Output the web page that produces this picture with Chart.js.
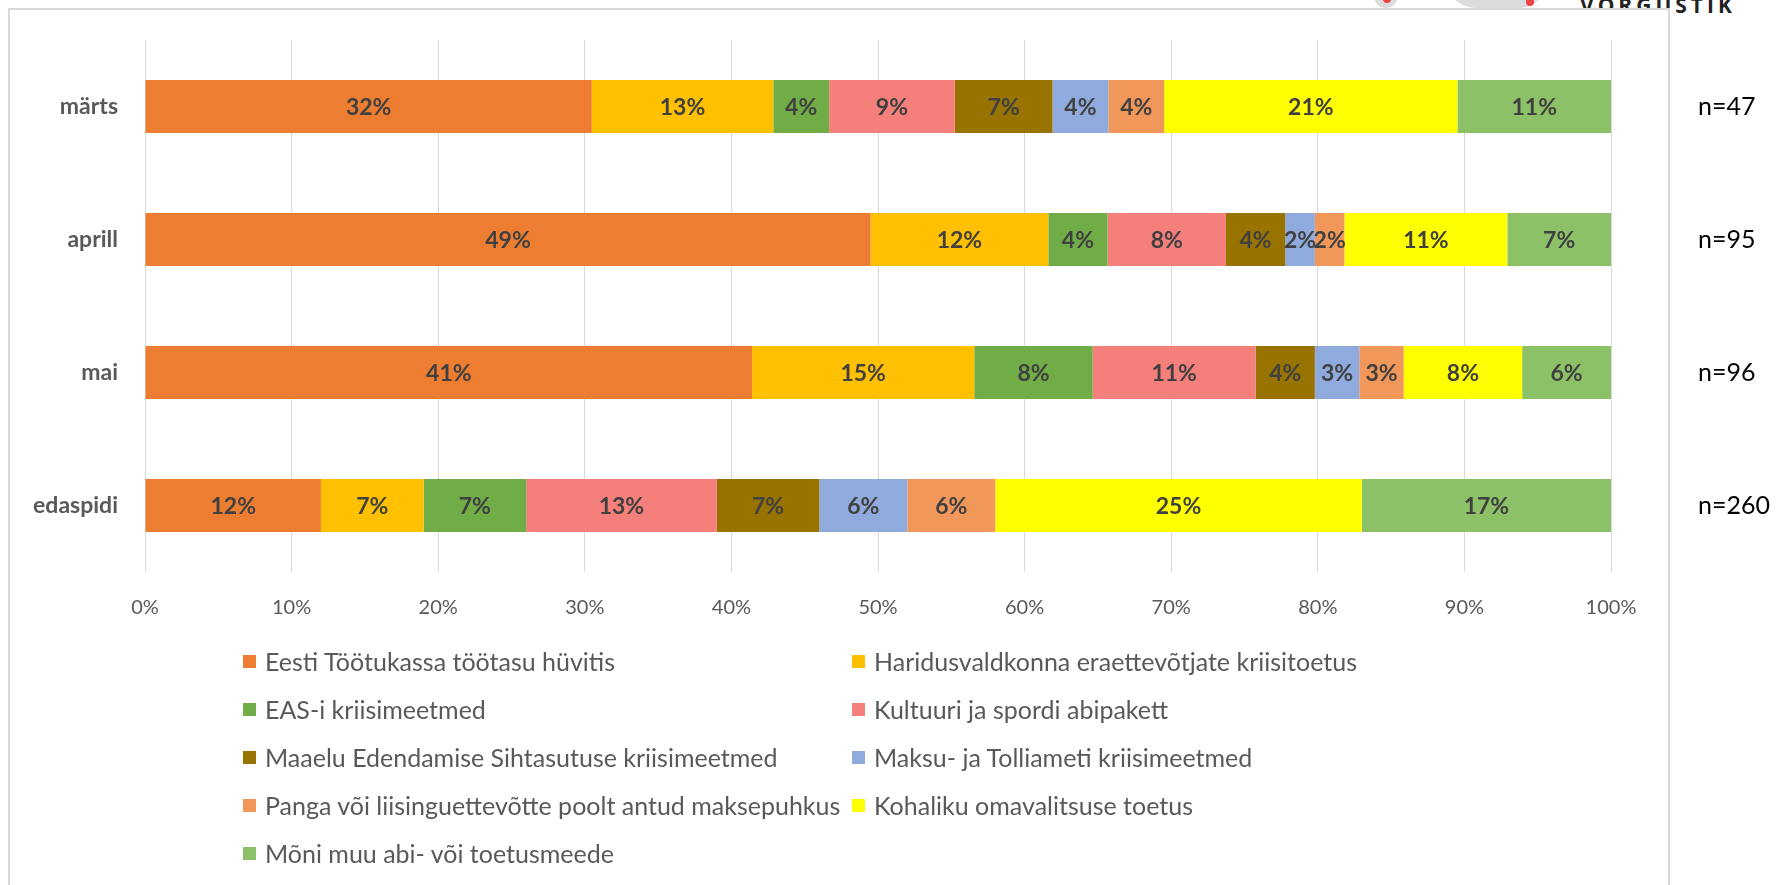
<!DOCTYPE html>
<html lang="et">
<head>
<meta charset="utf-8">
<title>Toetusmeetmed</title>
<script src="https://cdn.jsdelivr.net/npm/chart.js@4.4.1/dist/chart.umd.min.js"></script>
<style>
  html, body { margin: 0; padding: 0; background: #fff; overflow: hidden; }
  #page { position: relative; width: 1776px; height: 885px; }
  .logo-blob { position: absolute; background: #dcdcdc; }
  .logo-dot { position: absolute; width: 8px; height: 8px; border-radius: 50%; background: #f04444; }
  #logoText {
    position: absolute; left: 1580px; top: -9px;
    font: bold 21px "Open Sans", sans-serif; letter-spacing: 4px; color: #222;
  }
  #frame {
    position: absolute; left: 8px; top: 8px; width: 1658px; height: 900px;
    border: 2px solid #d9d9d9; background: #fff;
  }
  #wrap { position: absolute; left: 0; top: 0; width: 1776px; height: 885px; }
  #legend {
    position: absolute; left: 243px; top: 637px;
    display: grid; grid-template-columns: 609px 600px; grid-auto-rows: 48px;
    font: 25px Lato, sans-serif; color: #595959;
  }
  #legend .item { display: flex; align-items: center; white-space: nowrap; }
  #legend .box { width: 13px; height: 13px; margin-right: 9px; flex: none; }
</style>
</head>
<body>
<div id="page">
  <div class="logo-blob" style="left:1374px; top:-20px; width:24px; height:28px; border-radius:0 0 12px 12px;"></div>
  <div class="logo-blob" style="left:1447px; top:-20px; width:100px; height:28px; border-radius:0 0 30px 30px;"></div>
  <div class="logo-dot" style="left:1526px; top:-2px;"></div>
  <div class="logo-dot" style="left:1383px; top:-5px;"></div>
  <div id="logoText">VÕRGUSTIK</div>
  <div id="frame"></div>
  <div id="wrap"><canvas id="chart"></canvas></div>
  <div id="legend"></div>
</div>
<script>
// months / periods and sample sizes
const categories = ["märts", "aprill", "mai", "edaspidi"];
const sampleSizes = ["n=47", "n=95", "n=96", "n=260"];
const xTicks = [0, 10, 20, 30, 40, 50, 60, 70, 80, 90, 100];

// share of respondents (%) per measure, in order märts, aprill, mai, edaspidi
const seriesNames = [
  "Eesti Töötukassa töötasu hüvitis",
  "Haridusvaldkonna eraettevõtjate kriisitoetus",
  "EAS-i kriisimeetmed",
  "Kultuuri ja spordi abipakett",
  "Maaelu Edendamise Sihtasutuse kriisimeetmed",
  "Maksu- ja Tolliameti kriisimeetmed",
  "Panga või liisinguettevõtte poolt antud maksepuhkus",
  "Kohaliku omavalitsuse toetus",
  "Mõni muu abi- või toetusmeede"
];
const tootukassa = [32, 49, 41, 12];
const haridus = [13, 12, 15, 7];
const eas = [4, 4, 8, 7];
const kultuur = [9, 8, 11, 13];
const maaelu = [7, 4, 4, 7];
const mta = [4, 2, 3, 6];
const pank = [4, 2, 3, 6];
const kov = [21, 11, 8, 25];
const muu = [11, 7, 6, 17];

const seriesValues = [tootukassa, haridus, eas, kultuur, maaelu, mta, pank, kov, muu];
const colors = ["#ED7D31", "#FFC000", "#70AD47", "#F47F7B", "#997300", "#8FAADC", "#F1975A", "#FFFF00", "#8CC168"];

// 100% stacked: each bar scaled to its row total
const rowTotals = categories.map((c, i) => seriesValues.reduce((s, arr) => s + arr[i], 0));

const datasets = seriesNames.map((name, k) => ({
  label: name,
  data: seriesValues[k].map((v, i) => v / rowTotals[i] * 100),
  raw: seriesValues[k],
  backgroundColor: colors[k],
  borderWidth: 0,
  categoryPercentage: 1,
  barPercentage: 0.4
}));

// labels in the middle of each segment
const segmentLabels = {
  id: "segmentLabels",
  afterDatasetsDraw(chart) {
    const ctx = chart.ctx;
    ctx.save();
    ctx.font = "bold 23px Lato, sans-serif";
    ctx.fillStyle = "#404040";
    ctx.textAlign = "center";
    ctx.textBaseline = "middle";
    chart.data.datasets.forEach((ds, k) => {
      chart.getDatasetMeta(k).data.forEach((bar, i) => {
        const x = (bar.x + bar.base) / 2;
        ctx.fillText(ds.raw[i] + "%", x, bar.y + 1);
      });
    });
    ctx.restore();
  }
};

// vertical axes: keep the big tick padding from pushing the plot down
const noVerticalPad = scale => { scale.paddingTop = 0; scale.paddingBottom = 0; };

const chart = new Chart(document.getElementById("chart"), {
  type: "bar",
  data: { labels: categories, datasets: datasets },
  options: {
    indexAxis: "y",
    responsive: true,
    maintainAspectRatio: false,
    animation: false,
    layout: { padding: { top: 40, right: 0, bottom: 253, left: 0 } },
    plugins: {
      legend: { display: false },
      tooltip: { enabled: false }
    },
    scales: {
      x: {
        stacked: true,
        min: 0,
        max: 100,
        afterBuildTicks: scale => { scale.ticks = xTicks.map(v => ({ value: v })); },
        afterFit: scale => { scale.height = 60; },
        ticks: {
          callback: v => v + "%",
          color: "#595959",
          font: { family: "Lato", size: 20 },
          padding: 24,
          maxRotation: 0
        },
        grid: { color: "#d9d9d9", lineWidth: 1, drawTicks: false },
        border: { display: false }
      },
      y: {
        stacked: true,
        afterFit: scale => { scale.width = 145; noVerticalPad(scale); },
        ticks: {
          color: "#595959",
          font: { family: "Lato", size: 23, weight: "bold" },
          padding: 27
        },
        grid: { display: false, drawTicks: false },
        border: { display: false }
      },
      y2: {
        type: "category",
        labels: sampleSizes,
        position: "right",
        afterFit: scale => { scale.width = 165; noVerticalPad(scale); },
        ticks: {
          color: "#000",
          font: { family: "Lato", size: 25 },
          padding: 87
        },
        grid: { display: false, drawTicks: false },
        border: { display: false }
      }
    }
  },
  plugins: [segmentLabels]
});

// two-column legend built from the datasets
const legendBox = document.getElementById("legend");
chart.data.datasets.forEach(ds => {
  const item = document.createElement("div");
  item.className = "item";
  const box = document.createElement("span");
  box.className = "box";
  box.style.background = ds.backgroundColor;
  const txt = document.createElement("span");
  txt.textContent = ds.label;
  item.appendChild(box);
  item.appendChild(txt);
  legendBox.appendChild(item);
});
</script>
</body>
</html>
